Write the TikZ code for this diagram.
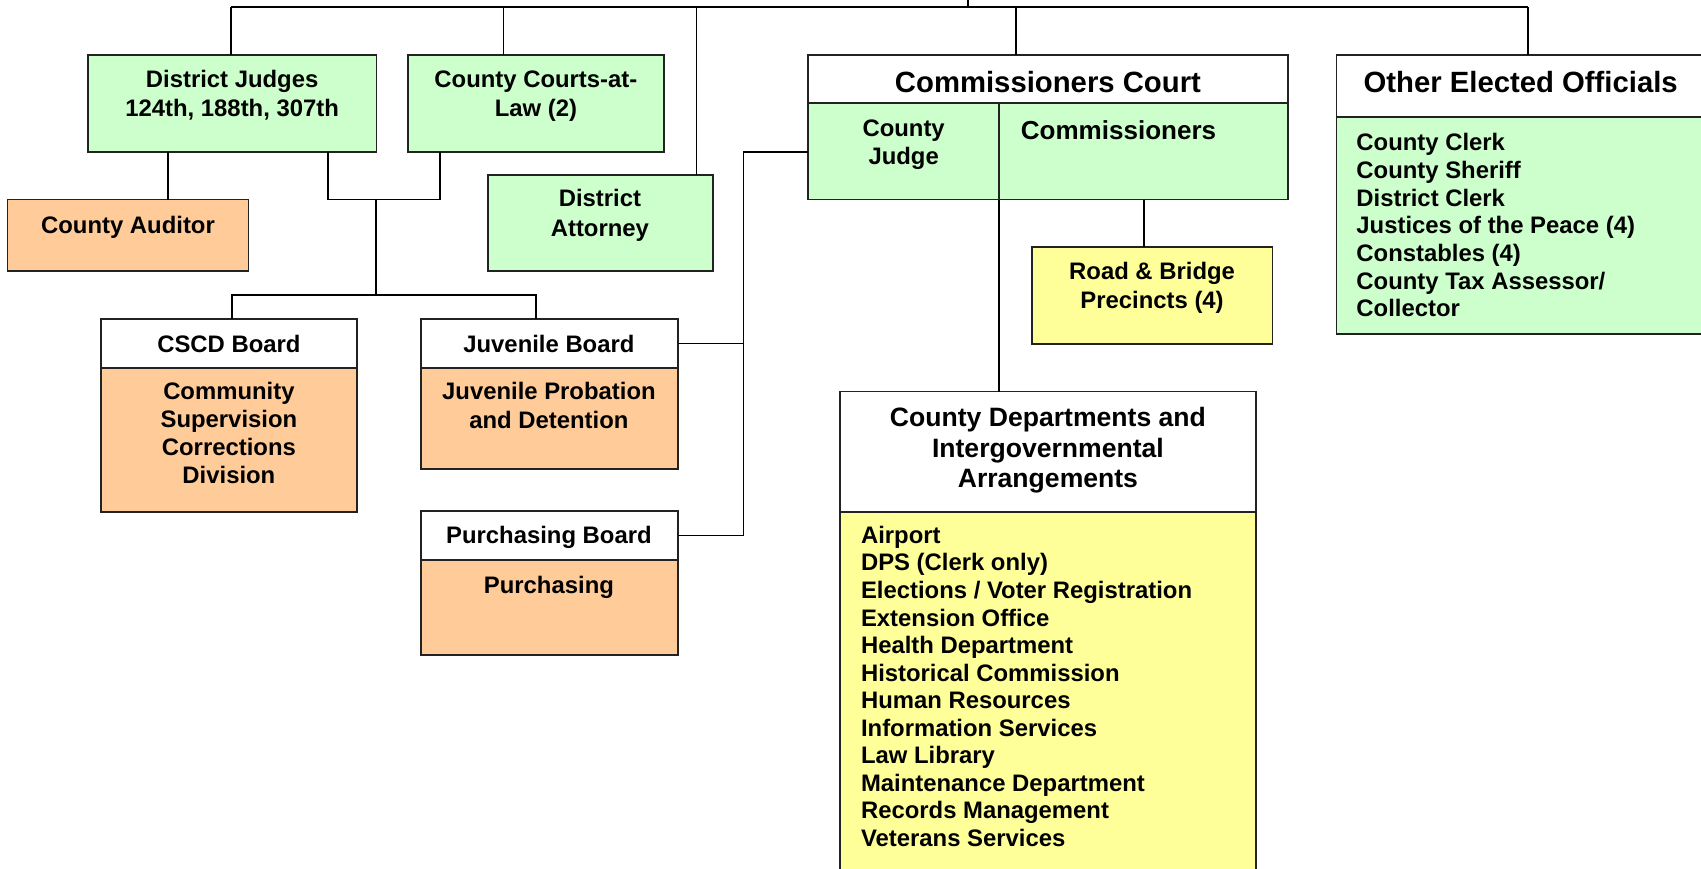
\documentclass[tikz,border=0pt]{standalone}
\usepackage{fontspec}
\setmainfont{Liberation Sans}
\newcommand\fsz[2]{\fontsize{#1}{#2}\selectfont\bfseries}
\definecolor{boxgreen}{HTML}{CCFFCC}
\definecolor{boxorange}{HTML}{FFCC99}
\definecolor{boxyellow}{HTML}{FFFF99}
\definecolor{boxline}{HTML}{222222}
\tikzset{
  box/.style={draw=boxline, line width=1.6pt, anchor=north west, inner sep=0pt, outer sep=0pt},
  conn/.style={draw=black, line width=1.4pt},
  txt/.style={inner sep=0pt, outer sep=0pt, anchor=base},
  ltxt/.style={inner sep=0pt, outer sep=0pt, anchor=base west, align=left},
}
\newcommand\bx[6]{\node[box, fill=#6, minimum width=#4-#2, minimum height=#5-#3] (#1) at (#2,#3) {};}
\begin{document}
\begin{tikzpicture}[x=1pt, y=-1pt]
\useasboundingbox (0,0) rectangle (1568,801);
% boxes
\bx{dj}{81}{51}{347}{140}{boxgreen}
\bx{ccl}{376}{51}{612}{140}{boxgreen}
\bx{aud}{7}{184}{229}{250}{boxorange}
\bx{da}{450}{161}{657}{250}{boxgreen}
\bx{cscdh}{93}{294}{329}{339}{white}
\bx{cscdb}{93}{339}{329}{472}{boxorange}
\bx{juvh}{388}{294}{625}{339}{white}
\bx{juvb}{388}{339}{625}{432}{boxorange}
\bx{purh}{388}{471}{625}{516}{white}
\bx{purb}{388}{516}{625}{604}{boxorange}
\bx{cch}{745}{51}{1187}{95}{white}
\bx{cj}{745}{95}{921}{184}{boxgreen}
\bx{com}{921}{95}{1187}{184}{boxgreen}
\bx{rb}{951}{228}{1173}{317}{boxyellow}
\bx{oeoh}{1232}{51}{1580}{108}{white}
\bx{oeob}{1232}{108}{1580}{308}{boxgreen}
\bx{cdh}{774}{361}{1158}{472}{white}
\bx{cdb}{774}{472}{1158}{810}{boxyellow}
% connector points
\coordinate (busL) at (213,6.5);
\coordinate (busR) at (1408.6,6.5);
\coordinate (busUp) at (892.5,6.5);
\coordinate (busTop) at (892.5,-5);
\coordinate (cclIn) at (464,6.5);
\coordinate (daIn) at (642,6.5);
\coordinate (ccIn) at (936.6,6.5);
\coordinate (judA) at (155,140);
\coordinate (judB) at (302.5,184);
\coordinate (cclB) at (405.4,184);
\coordinate (jdMid) at (346.5,184);
\coordinate (bdBus) at (346.5,272);
\coordinate (cscdIn) at (214,272);
\coordinate (juvIn) at (494,272);
\coordinate (sideX) at (685.5,140);
\coordinate (jdivTop) at (921,184);
\coordinate (rbX) at (1054.4,184);
% connectors
\draw[conn] (busL) -- (busR);
\draw[conn] (busUp) -- (busTop);
\draw[conn] (busL) -- (busL |- dj.north);
\draw[conn] (cclIn) -- (cclIn |- ccl.north);
\draw[conn] (daIn) -- (daIn |- da.north);
\draw[conn] (ccIn) -- (ccIn |- cch.north);
\draw[conn] (busR) -- (busR |- oeoh.north);
\draw[conn] (judA) -- (judA |- aud.north);
\draw[conn] (judB |- dj.south) -- (judB) -- (cclB) -- (cclB |- ccl.south);
\draw[conn] (jdMid) -- (bdBus);
\draw[conn] (cscdIn |- cscdh.north) -- (cscdIn) -- (juvIn) -- (juvIn |- juvh.north);
\draw[conn] (juvh.east) -- (juvh.east -| sideX);
\draw[conn] (purh.east) -- (purh.east -| sideX);
\draw[conn] (purh.east -| sideX) -- (sideX) -- (sideX -| cj.west);
\draw[conn] (jdivTop) -- (jdivTop |- cdh.north);
\draw[conn] (rbX) -- (rbX |- rb.north);
% texts (anchor base = baseline of the last line)
\node[txt, align=center, font=\fsz{22}{27}] (djt) at (214,107.5) {District Judges\\124th, 188th, 307th};
\node[txt, align=center, font=\fsz{22}{27}] (cclt) at (494,107.5) {County Courts-at-\\Law (2)};
\node[txt, font=\fsz{22}{26}] (audt) at (118,215) {County Auditor};
\node[txt, align=center, font=\fsz{22}{27.7}] (dat) at (553,218.2) {District\\Attorney};
\node[txt, font=\fsz{22}{26}] (cscdht) at (211,325) {CSCD Board};
\node[txt, align=center, font=\fsz{22}{25.8}] (cscdbt) at (211,446.1) {Community\\Supervision\\Corrections\\Division};
\node[txt, font=\fsz{22}{26}] (juvht) at (506,325) {Juvenile Board};
\node[txt, align=center, font=\fsz{22}{26.1}] (juvbt) at (506,394.8) {Juvenile Probation\\and Detention};
\node[txt, font=\fsz{22}{26}] (purht) at (506,500.9) {Purchasing Board};
\node[txt, font=\fsz{22}{26}] (purbt) at (506,547) {Purchasing};
\node[txt, font=\fsz{27}{31}] (ccht) at (966,85.4) {Commissioners Court};
\node[txt, align=center, font=\fsz{22}{25.2}] (cjt) at (833,151.2) {County\\Judge};
\node[ltxt, font=\fsz{24}{28}] (comt) at (941,128.4) {Commissioners};
\node[txt, align=center, font=\fsz{22}{26.7}] (rbt) at (1062,284.2) {Road \& Bridge\\Precincts (4)};
\node[ltxt, font=\fsz{27}{31}] (oeoht) at (1257,85.4) {Other Elected Officials};
\node[ltxt, font=\fsz{22}{25.5}] (oeobt) at (1250.4,291.9) {County Clerk\\County Sheriff\\District Clerk\\Justices of the Peace (4)\\Constables (4)\\County Tax Assessor/\\Collector};
\node[txt, align=center, font=\fsz{24.5}{28}] (cdht) at (966,449.3) {County Departments and\\Intergovernmental\\Arrangements};
\node[ltxt, font=\fsz{22}{25.4}] (cdbt) at (793.7,780.3) {Airport\\DPS (Clerk only)\\Elections / Voter Registration\\Extension Office\\Health Department\\Historical Commission\\Human Resources\\Information Services\\Law Library\\Maintenance Department\\Records Management\\Veterans Services};
\end{tikzpicture}
\end{document}
